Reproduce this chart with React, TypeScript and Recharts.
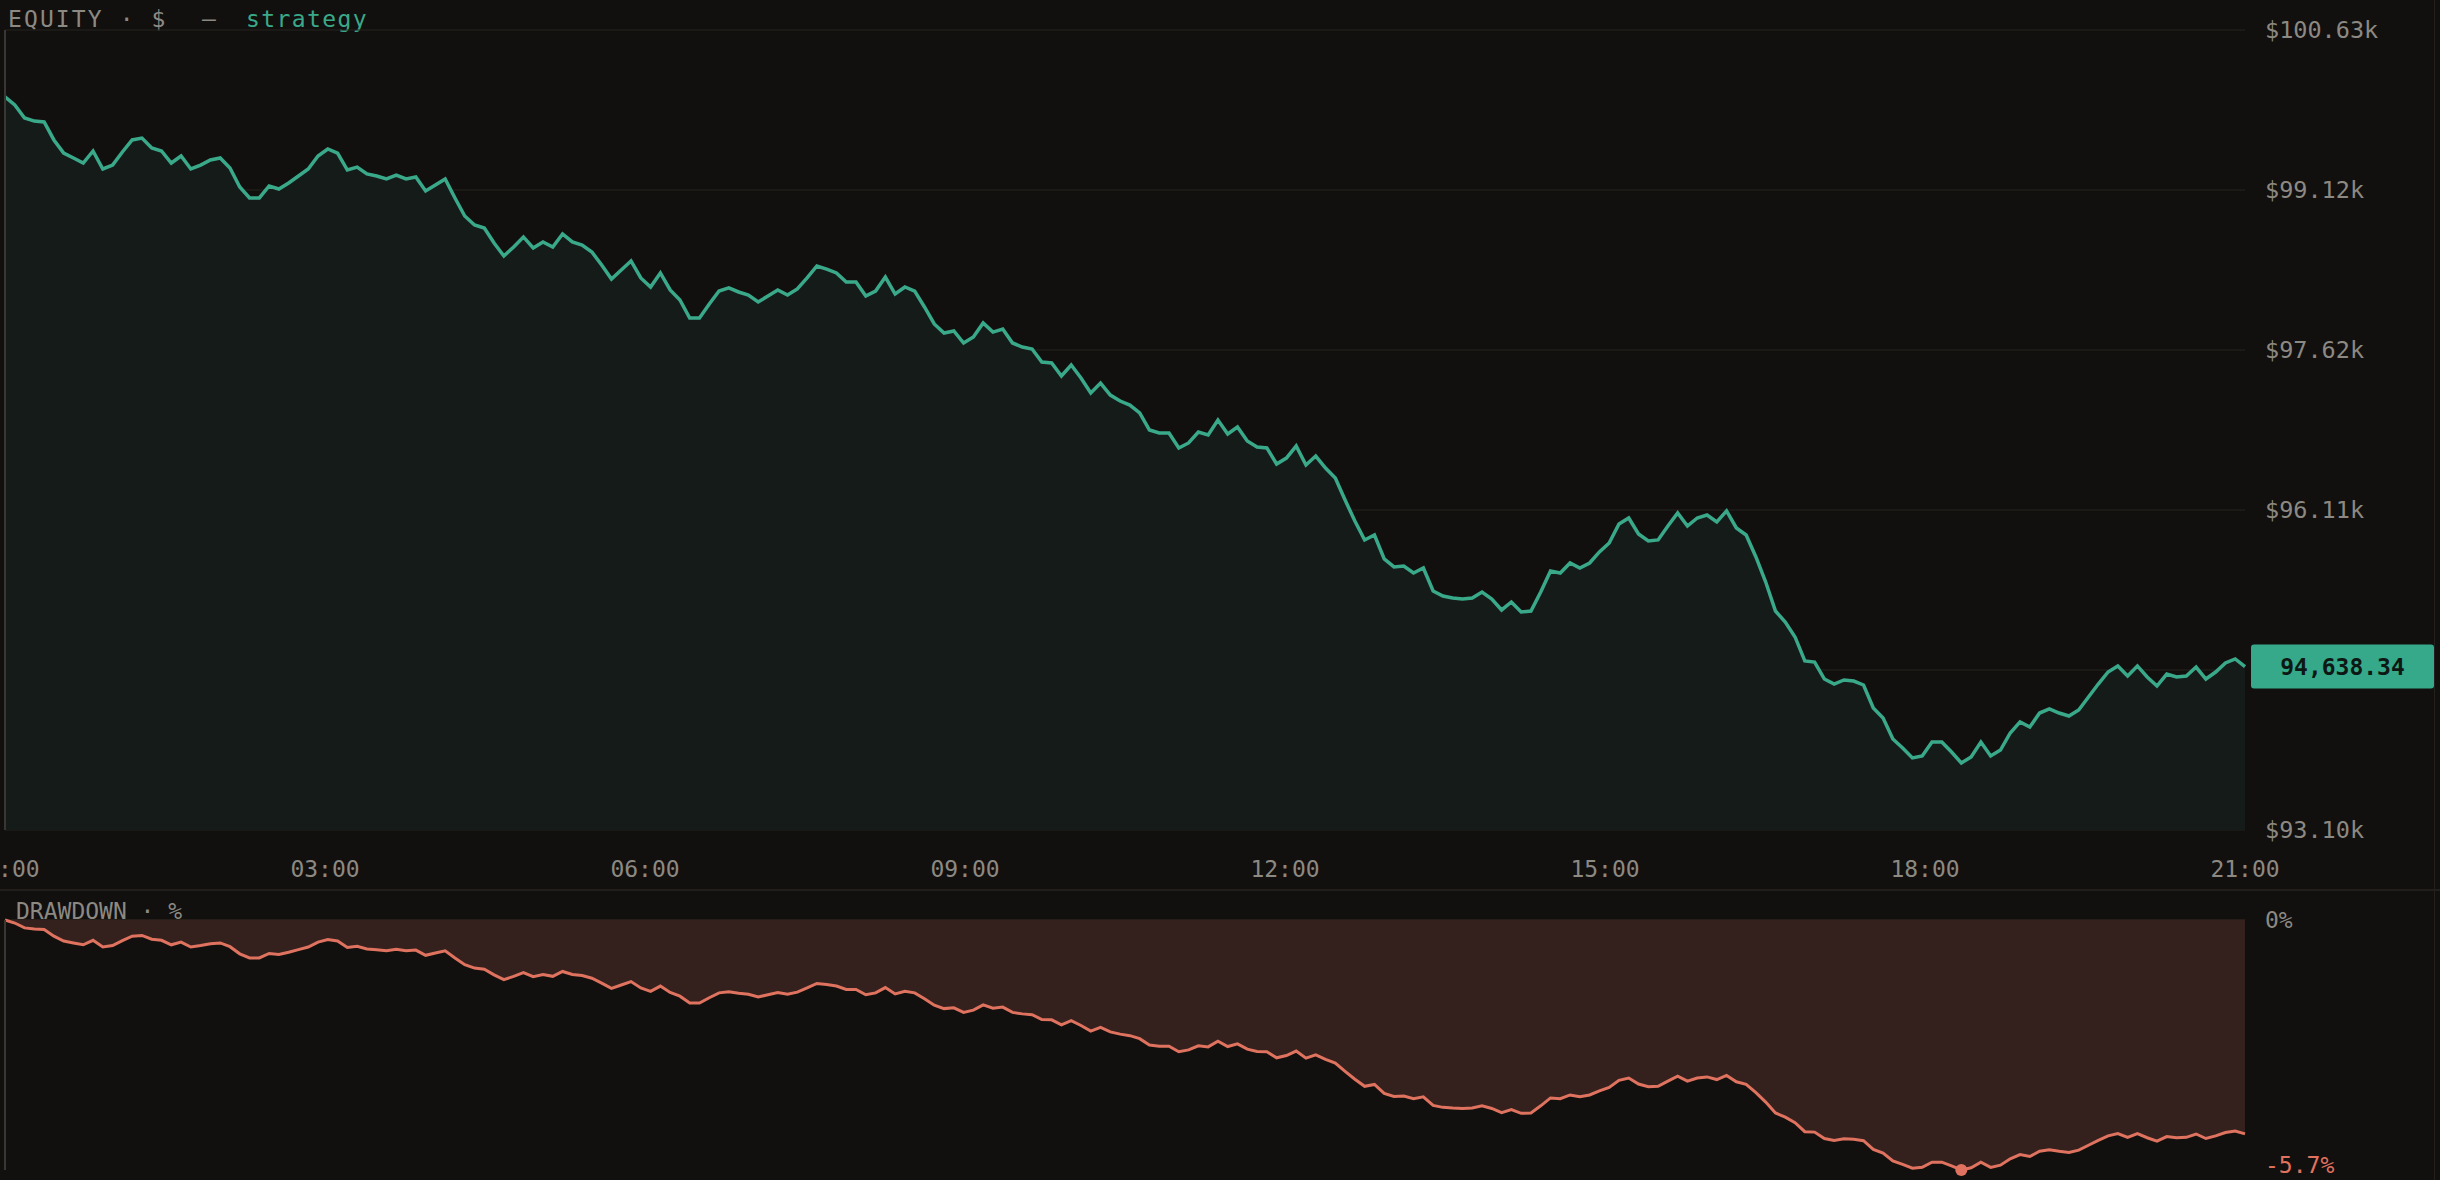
import {
  ComposedChart,
  Area,
  XAxis,
  YAxis,
  CartesianGrid,
  ReferenceLine,
  ReferenceDot,
} from 'recharts';

// equity curve (USD), one point every ~5.5 minutes
const equity = [
  100000, 99924, 99802, 99773, 99764, 99595, 99472, 99425, 99378, 99491,
  99322, 99359, 99482, 99595, 99613, 99519, 99491, 99378, 99444, 99322,
  99359, 99406, 99425, 99331, 99152, 99049, 99049, 99162, 99133, 99190,
  99256, 99322, 99444, 99510, 99472, 99312, 99340, 99275, 99256, 99228,
  99265, 99228, 99246, 99115, 99171, 99228, 99049, 98879, 98795, 98766,
  98625, 98503, 98588, 98682, 98578, 98635, 98588, 98710, 98635, 98606,
  98540, 98418, 98286, 98371, 98456, 98296, 98211, 98343, 98183, 98089,
  97919, 97919, 98051, 98173, 98202, 98164, 98136, 98070, 98126, 98183,
  98136, 98192, 98296, 98409, 98380, 98343, 98258, 98258, 98126, 98173,
  98305, 98145, 98211, 98173, 98023, 97863, 97778, 97797, 97684, 97740,
  97872, 97787, 97816, 97684, 97646, 97627, 97505, 97496, 97373, 97477,
  97354, 97213, 97307, 97194, 97138, 97100, 97025, 96865, 96837, 96837,
  96696, 96743, 96846, 96818, 96959, 96827, 96893, 96761, 96705, 96696,
  96545, 96601, 96714, 96536, 96620, 96507, 96413, 96206, 96008, 95830,
  95877, 95651, 95576, 95585, 95519, 95566, 95350, 95302, 95284, 95274,
  95284, 95340, 95274, 95171, 95246, 95152, 95161, 95340, 95538, 95519,
  95613, 95566, 95613, 95717, 95801, 95980, 96037, 95886, 95820, 95830,
  95961, 96084, 95961, 96037, 96065, 95999, 96103, 95943, 95877, 95670,
  95434, 95161, 95058, 94917, 94691, 94681, 94521, 94474, 94512, 94502,
  94465, 94248, 94154, 93957, 93872, 93778, 93797, 93928, 93928, 93834,
  93731, 93787, 93928, 93797, 93853, 94013, 94117, 94069, 94201, 94239,
  94201, 94173, 94230, 94352, 94474, 94587, 94644, 94550, 94644, 94540,
  94455, 94568, 94540, 94550, 94634, 94521, 94587, 94672, 94710, 94638.34,
];

const SPAN_HOURS = 21;
const hourTicks = [0, 3, 6, 9, 12, 15, 18, 21];
const hourLabels = ['00:00', '03:00', '06:00', '09:00', '12:00', '15:00', '18:00', '21:00'];
const priceTicks = [93100, 94606, 96112, 97618, 99124, 100630];
const ddTickLabels = ['-5.7%', '0%'];

const rows = equity.map((v, i) => ({
  t: (i * SPAN_HOURS) / (equity.length - 1),
  equity: v,
}));

let peak = -Infinity;
const ddRows = rows.map((r) => {
  peak = Math.max(peak, r.equity);
  return { t: r.t, dd: (r.equity / peak - 1) * 100 };
});
const worst = ddRows.reduce((a, b) => (b.dd < a.dd ? b : a));
const last = rows[rows.length - 1];

const FONT = "'DejaVu Sans Mono', monospace";
const BG = '#12100e';
const MUTED = '#8c8983';
const GREEN = '#3aa98a';
const RED = '#e0735f';
const GRID = '#25221f';
const PRICE_DOMAIN = [priceTicks[0], priceTicks[priceTicks.length - 1]];

const Badge = ({ cx, cy }: any) => {
  if (cx == null || cy == null) return null;
  const w = 183;
  const h = 44;
  const x = cx + 6;
  return (
    <g>
      <rect x={x} y={cy - h / 2} width={w} height={h} rx={3} fill="#35a98a" />
      <text
        x={x + w / 2}
        y={cy}
        textAnchor="middle"
        dominantBaseline="central"
        fontFamily={FONT}
        fontSize={23}
        fontWeight="bold"
        fill="#0d1713"
      >
        {last.equity.toLocaleString('en-US', { minimumFractionDigits: 2, maximumFractionDigits: 2 })}
      </text>
    </g>
  );
};

const DdTick = ({ x, y, index }: any) => (
  <text
    x={x}
    y={index === 0 ? y - 5 : y}
    dominantBaseline="central"
    fontFamily={FONT}
    fontSize={23}
    fill={index === 0 ? RED : MUTED}
  >
    {ddTickLabels[index]}
  </text>
);

export default function App() {
  return (
    <div
      style={{
        position: 'absolute',
        left: 0,
        top: 0,
        width: 2440,
        height: 1180,
        background: BG,
        overflow: 'hidden',
        fontFamily: FONT,
      }}
    >
      <div style={{ position: 'absolute', left: 0, top: 0, width: 2434, height: 1180, borderRight: '1px solid #23201d' }} />

      {/* title */}
      <div style={{ position: 'absolute', top: 7, left: 8, fontSize: 23, lineHeight: '24px', color: MUTED, letterSpacing: 2.1, whiteSpace: 'pre' }}>
        EQUITY · $
      </div>
      <div style={{ position: 'absolute', top: 7, left: 202, fontSize: 23, lineHeight: '24px', color: MUTED }}>—</div>
      <div style={{ position: 'absolute', top: 7, left: 246, fontSize: 23, lineHeight: '24px', color: GREEN, letterSpacing: 1.4 }}>
        strategy
      </div>

      {/* equity */}
      <div style={{ position: 'absolute', left: 0, top: 0 }}>
        <ComposedChart width={2440} height={890} data={rows} margin={{ top: 30, right: 0, left: 5, bottom: 0 }}>
          <CartesianGrid vertical={false} stroke={GRID} />
          <XAxis
            dataKey="t"
            type="number"
            domain={[0, SPAN_HOURS]}
            ticks={hourTicks}
            tickFormatter={(v) => hourLabels[hourTicks.indexOf(v)]}
            tick={{ fill: MUTED, fontSize: 23, fontFamily: FONT }}
            tickLine={false}
            axisLine={false}
            tickMargin={25}
            height={60}
            interval={0}
          />
          <YAxis
            orientation="right"
            domain={PRICE_DOMAIN}
            ticks={priceTicks}
            tickFormatter={(v) => `$${(v / 1000).toFixed(2)}k`}
            tick={{ fill: MUTED, fontSize: 23.5, fontFamily: FONT, textAnchor: 'start' }}
            tickLine={false}
            axisLine={false}
            tickMargin={14}
            width={195}
            interval={0}
          />
          <ReferenceLine x={0} stroke="#3a3632" strokeWidth={2} />
          <Area
            type="linear"
            dataKey="equity"
            stroke={GREEN}
            strokeWidth={3.5}
            fill="#151b18"
            fillOpacity={1}
            baseValue="dataMin"
            dot={false}
            activeDot={false}
            isAnimationActive={false}
          />
        </ComposedChart>
      </div>

      {/* last-value badge, drawn over the price axis */}
      <div style={{ position: 'absolute', left: 0, top: 0 }}>
        <ComposedChart width={2440} height={890} data={rows} margin={{ top: 30, right: 0, left: 5, bottom: 0 }}>
          <XAxis dataKey="t" type="number" domain={[0, SPAN_HOURS]} height={60} tick={false} axisLine={false} tickLine={false} />
          <YAxis
            orientation="right"
            domain={PRICE_DOMAIN}
            width={195}
            tick={false}
            axisLine={false}
            tickLine={false}
          />
          <Area
            type="linear"
            dataKey="equity"
            stroke="none"
            fill="none"
            dot={false}
            activeDot={false}
            isAnimationActive={false}
          />
          <ReferenceDot x={last.t} y={last.equity} r={0} shape={<Badge />} ifOverflow="visible" />
        </ComposedChart>
      </div>

      {/* drawdown */}
      <div style={{ position: 'absolute', left: 0, top: 889, width: 2440, borderTop: '2px solid #211e1b' }}>
        <div style={{ position: 'absolute', left: 16, top: 8, fontSize: 23, lineHeight: '24px', color: MUTED, whiteSpace: 'pre' }}>
          DRAWDOWN · %
        </div>
        <ComposedChart width={2440} height={289} data={ddRows} margin={{ top: 29, right: 0, left: 5, bottom: 10 }}>
          <CartesianGrid vertical={false} stroke="#3a2a25" horizontalValues={[0]} />
          <XAxis dataKey="t" type="number" domain={[0, SPAN_HOURS]} hide />
          <YAxis
            orientation="right"
            domain={[worst.dd, 0]}
            ticks={[worst.dd, 0]}
            tick={<DdTick />}
            tickLine={false}
            axisLine={false}
            tickMargin={14}
            width={195}
            interval={0}
          />
          <ReferenceLine x={0} stroke="#3a3632" strokeWidth={2} />
          <Area
            type="linear"
            dataKey="dd"
            stroke={RED}
            strokeWidth={3}
            fill="#34201c"
            fillOpacity={1}
            baseValue={0}
            dot={false}
            activeDot={false}
            isAnimationActive={false}
          />
          <ReferenceDot x={worst.t} y={worst.dd} r={6} fill={RED} stroke="none" ifOverflow="visible" />
        </ComposedChart>
      </div>
    </div>
  );
}
